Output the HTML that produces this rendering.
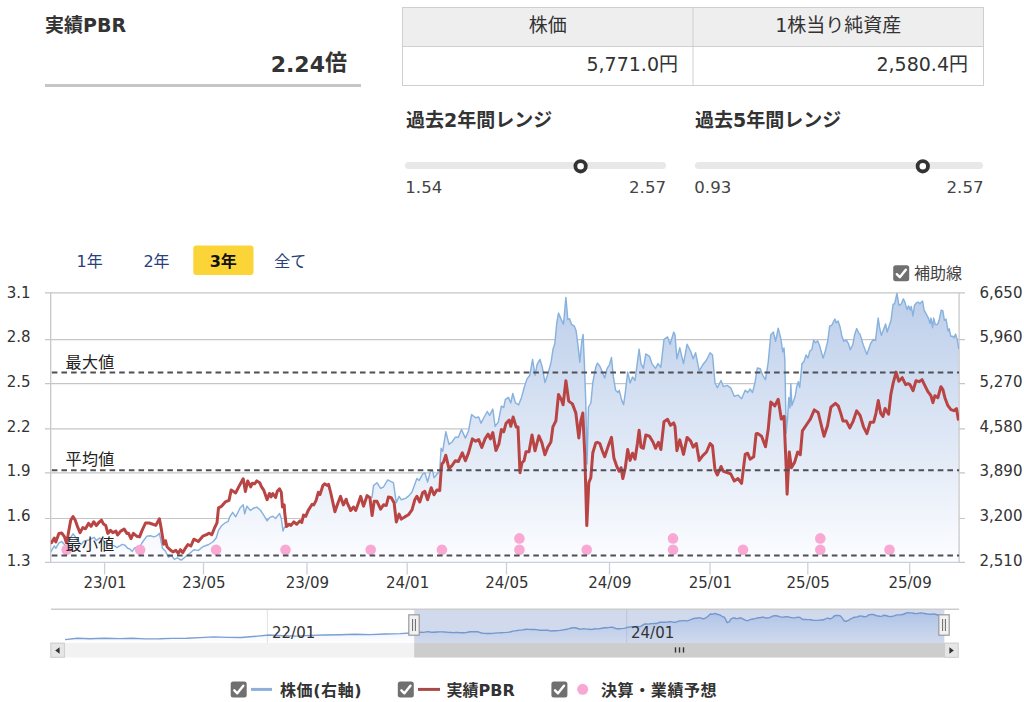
<!DOCTYPE html>
<html lang="ja"><head><meta charset="utf-8"><title>実績PBR</title>
<style>html,body{margin:0;padding:0;background:#fff;}body{width:1024px;height:702px;overflow:hidden;position:relative;}</style>
</head><body>
<svg width="1024" height="702" viewBox="0 0 1024 702" style="position:absolute;left:0;top:0">
<defs><linearGradient id="ag" gradientUnits="userSpaceOnUse" x1="0" y1="292.8" x2="0" y2="562.4"><stop offset="0" stop-color="rgb(188,206,234)"/><stop offset="1" stop-color="rgb(252,253,255)"/></linearGradient><linearGradient id="ng" gradientUnits="userSpaceOnUse" x1="0" y1="609" x2="0" y2="643"><stop offset="0" stop-color="rgb(124,170,236)" stop-opacity="0.4"/><stop offset="1" stop-color="rgb(124,170,236)" stop-opacity="0"/></linearGradient><clipPath id="pc"><rect x="50.7" y="282.8" width="908.4" height="279.59999999999997"/></clipPath></defs>
<text x="45" y="32" font-family='"DejaVu Sans", "Noto Sans CJK JP", sans-serif' font-size="19" font-weight="bold" fill="#333">実績PBR</text>
<text x="347" y="71.7" text-anchor="end" font-family='"DejaVu Sans", "Noto Sans CJK JP", sans-serif' font-size="22" font-weight="bold" fill="#333">2.24<tspan dy="-1.5">倍</tspan></text>
<rect x="45" y="84" width="316" height="3" fill="#c6c6c6"/>
<rect x="402.5" y="7.5" width="581" height="78" fill="#fff" stroke="#cfcfcf" stroke-width="1"/>
<rect x="403" y="8" width="580" height="38" fill="#eeeeee"/>
<line x1="402.5" y1="46.5" x2="983.5" y2="46.5" stroke="#cfcfcf"/>
<line x1="693" y1="7.5" x2="693" y2="85.5" stroke="#cfcfcf"/>
<text x="547.8" y="32" text-anchor="middle" font-family='"DejaVu Sans", "Noto Sans CJK JP", sans-serif' font-size="19" fill="#333">株価</text>
<text x="838.3" y="32" text-anchor="middle" font-family='"DejaVu Sans", "Noto Sans CJK JP", sans-serif' font-size="19" fill="#333">1株当り純資産</text>
<text x="678" y="71.1" text-anchor="end" font-family='"DejaVu Sans", "Noto Sans CJK JP", sans-serif' font-size="19" fill="#333">5,771.0円</text>
<text x="968" y="71.1" text-anchor="end" font-family='"DejaVu Sans", "Noto Sans CJK JP", sans-serif' font-size="19" fill="#333">2,580.4円</text>
<text x="406" y="127" font-family='"DejaVu Sans", "Noto Sans CJK JP", sans-serif' font-size="19" font-weight="bold" fill="#333">過去2年間レンジ</text>
<text x="695" y="127" font-family='"DejaVu Sans", "Noto Sans CJK JP", sans-serif' font-size="19" font-weight="bold" fill="#333">過去5年間レンジ</text>
<rect x="405" y="162" width="261" height="7" rx="3.5" fill="#e8e8e8"/>
<rect x="695" y="162" width="288" height="7" rx="3.5" fill="#e8e8e8"/>
<circle cx="580.6" cy="166.3" r="5.2" fill="#fff" stroke="#333" stroke-width="3.8"/>
<circle cx="922.8" cy="166.3" r="5.2" fill="#fff" stroke="#333" stroke-width="3.8"/>
<text x="405.3" y="192.8" text-anchor="start" font-family='"DejaVu Sans", "Noto Sans CJK JP", sans-serif' font-size="16.6" fill="#444">1.54</text>
<text x="666" y="192.8" text-anchor="end" font-family='"DejaVu Sans", "Noto Sans CJK JP", sans-serif' font-size="16.6" fill="#444">2.57</text>
<text x="694.3" y="192.8" text-anchor="start" font-family='"DejaVu Sans", "Noto Sans CJK JP", sans-serif' font-size="16.6" fill="#444">0.93</text>
<text x="983.5" y="192.8" text-anchor="end" font-family='"DejaVu Sans", "Noto Sans CJK JP", sans-serif' font-size="16.6" fill="#444">2.57</text>
<rect x="193.3" y="245.5" width="60.2" height="29.6" rx="3" fill="#fbd537"/>
<text x="89.6" y="266.8" text-anchor="middle" font-family='"DejaVu Sans", "Noto Sans CJK JP", sans-serif' font-size="16" fill="#283f7c">1年</text>
<text x="156.5" y="266.8" text-anchor="middle" font-family='"DejaVu Sans", "Noto Sans CJK JP", sans-serif' font-size="16" fill="#283f7c">2年</text>
<text x="223.2" y="266.8" text-anchor="middle" font-family='"DejaVu Sans", "Noto Sans CJK JP", sans-serif' font-size="16" font-weight="bold" fill="#111">3年</text>
<text x="290.2" y="266.8" text-anchor="middle" font-family='"DejaVu Sans", "Noto Sans CJK JP", sans-serif' font-size="16" fill="#283f7c">全て</text>
<rect x="893.2" y="265.3" width="16" height="16" rx="2.5" fill="#707070"/>
<path d="M896.8 274.2 L899.8 277.2 L905.8 269.7" fill="none" stroke="#fff" stroke-width="2.4" stroke-linecap="round" stroke-linejoin="round"/>
<text x="914" y="279.3" font-family='"DejaVu Sans", "Noto Sans CJK JP", sans-serif' font-size="16" fill="#444">補助線</text>
<line x1="45" y1="292.8" x2="965" y2="292.8" stroke="#c6c6c6" stroke-width="1.15"/>
<line x1="45" y1="339.6" x2="965" y2="339.6" stroke="#c6c6c6" stroke-width="1.15"/>
<line x1="45" y1="383.6" x2="965" y2="383.6" stroke="#c6c6c6" stroke-width="1.15"/>
<line x1="45" y1="428.9" x2="965" y2="428.9" stroke="#c6c6c6" stroke-width="1.15"/>
<line x1="45" y1="472.9" x2="965" y2="472.9" stroke="#c6c6c6" stroke-width="1.15"/>
<line x1="45" y1="518.5" x2="965" y2="518.5" stroke="#c6c6c6" stroke-width="1.15"/>
<line x1="45" y1="562.4" x2="965" y2="562.4" stroke="#c6c6c6" stroke-width="1.15"/>
<polygon points="50.5,562.4 50.5,551.4 51.1,551.4 54.3,545.9 55.8,548.3 58.9,542.8 61.7,541.6 64.4,544.4 66.8,546.7 70.7,537.3 73.0,533.8 75.3,536.6 78.0,541.0 80.8,544.4 83.9,541.3 89.4,539.7 94.1,537.3 96.4,540.5 99.6,538.1 101.9,538.9 104.3,541.3 108.2,544.4 114.4,545.9 116.8,547.5 119.9,545.9 122.2,544.4 125.0,545.2 127.7,548.3 129.8,549.0 132.2,551.4 134.6,547.8 139.5,547.8 141.9,543.0 146.7,536.3 150.4,535.7 154.0,536.9 157.0,535.7 159.4,533.3 162.5,548.2 165.5,551.2 168.5,557.2 171.4,555.7 174.4,559.4 177.4,557.9 181.2,560.1 184.9,557.2 188.6,554.2 193.9,549.7 198.3,550.4 202.8,546.7 208.8,544.5 213.3,541.5 216.3,537.7 218.5,530.3 221.5,525.8 225.3,522.8 228.2,521.3 229.7,516.8 232.7,512.3 235.7,516.8 240.2,507.8 243.2,504.8 244.7,513.8 246.9,506.3 250.3,510.4 253.4,508.3 256.8,507.1 260.3,510.0 263.7,515.1 267.1,520.8 269.9,517.4 272.8,516.3 275.6,518.5 279.6,513.4 281.3,518.5 283.0,531.1 284.5,527.1 286.4,526.5 289.3,524.2 291.0,525.4 293.8,521.9 296.7,524.2 300.1,520.8 301.8,522.5 303.5,515.1 305.8,516.3 308.1,510.6 312.1,504.3 313.8,504.9 316.1,500.3 318.3,492.3 320.0,494.6 322.9,485.5 324.6,483.8 327.4,485.5 328.6,484.4 330.9,493.5 334.9,511.7 337.7,503.7 340.5,496.3 343.4,504.9 346.2,499.2 347.1,502.7 350.7,510.5 353.5,507.0 355.7,510.5 358.5,502.7 360.7,496.3 363.5,506.2 367.1,495.6 369.9,497.7 372.1,497.0 373.5,485.6 377.0,482.7 380.6,488.4 383.5,487.0 387.7,479.9 390.6,481.3 393.4,482.7 396.3,502.7 399.1,496.3 401.3,499.8 405.5,498.4 409.1,495.6 412.0,492.0 414.8,484.2 416.9,478.5 419.1,480.6 422.6,474.2 424.8,472.8 427.6,482.0 430.5,471.3 432.6,470.6 434.0,477.7 436.9,474.2 439.7,471.3 441.1,448.2 442.7,451.4 445.8,431.8 449.0,444.3 452.1,442.0 455.2,437.3 458.3,437.3 461.5,429.5 465.4,438.1 468.5,431.0 471.6,414.6 475.6,417.7 478.7,417.0 481.0,423.2 484.2,417.0 487.3,411.5 489.6,415.4 492.8,409.1 495.1,426.3 498.2,422.4 501.4,406.0 503.7,407.6 505.3,399.7 508.4,397.4 510.8,402.9 512.8,393.5 515.5,402.9 518.7,404.8 521.5,397.4 524.3,387.2 527.0,378.9 529.8,375.2 532.6,359.4 535.0,375.2 537.2,364.1 540.0,359.4 542.4,367.8 545.0,382.6 548.3,372.4 551.1,362.2 553.0,349.3 554.8,343.7 556.7,323.3 558.5,313.1 561.3,319.6 563.5,324.3 565.9,297.4 567.8,319.6 569.6,318.7 571.5,324.3 574.3,326.1 576.1,330.7 578.0,345.6 579.8,362.2 581.7,341.9 583.1,334.4 584.4,364.1 585.7,400.0 587.0,464.0 588.5,407.0 590.9,403.0 592.8,382.6 595.6,367.8 597.4,363.1 599.8,366.0 602.3,372.1 604.7,378.1 607.1,368.4 609.5,364.8 611.5,357.5 613.2,375.7 615.6,390.2 618.0,392.6 619.2,390.2 621.6,399.9 623.6,404.7 625.3,392.6 627.7,372.1 630.1,383.0 632.5,376.9 635.0,380.5 637.4,362.4 639.1,349.1 641.0,363.6 643.4,368.4 645.8,353.9 649.5,356.3 651.9,363.6 655.5,368.4 658.0,363.6 660.9,367.2 664.0,339.4 667.6,336.9 670.1,344.2 673.7,332.1 675.0,334.5 676.9,358.7 679.8,347.8 683.5,363.6 687.1,344.2 690.7,351.5 693.2,358.7 695.6,352.7 699.2,370.8 702.8,364.8 706.5,360.0 710.1,352.7 712.5,355.1 715.0,383.0 717.4,387.8 721.0,380.5 723.4,386.6 727.1,385.4 730.7,387.8 734.3,396.3 738.0,395.1 741.6,398.7 745.2,390.2 747.6,392.6 750.1,389.0 752.5,392.6 754.9,383.0 757.3,368.0 760.3,368.7 762.9,375.6 765.5,379.6 768.2,362.4 770.8,334.8 773.4,332.1 775.6,341.4 778.2,328.2 780.8,338.7 782.7,351.9 784.0,347.9 784.8,360.0 786.2,433.0 787.7,415.9 788.8,397.6 790.0,407.9 790.8,384.0 791.9,405.6 795.1,396.5 796.8,386.2 798.3,381.7 799.7,387.4 802.0,363.4 802.2,363.8 804.1,361.3 806.0,354.9 807.9,358.1 809.9,351.0 811.8,349.7 813.7,340.1 815.6,342.7 817.6,340.8 819.5,345.3 821.4,352.3 823.1,358.1 825.3,351.0 827.8,340.8 829.7,326.0 831.7,325.4 833.6,321.5 834.9,319.0 836.2,322.8 838.1,320.9 840.0,326.7 841.9,336.3 843.8,341.4 846.4,340.1 848.3,343.3 850.3,349.7 852.8,344.6 854.7,334.4 856.7,328.6 859.2,333.7 860.0,334.1 863.2,344.8 866.9,354.4 870.7,343.2 873.4,339.5 875.5,340.6 878.2,318.1 879.8,328.8 881.4,335.2 885.6,324.0 887.2,332.0 891.0,320.3 893.1,304.2 894.7,303.7 896.9,293.5 899.0,305.3 901.1,304.2 903.3,298.9 904.9,302.1 907.0,309.6 908.6,305.8 910.2,310.1 911.3,306.4 912.9,316.0 914.5,305.3 916.6,302.6 918.2,302.1 919.8,303.7 922.5,301.0 924.1,310.1 928.4,318.1 930.0,323.5 931.0,318.1 932.6,327.7 933.7,318.1 935.3,324.5 937.5,324.5 939.1,320.3 941.2,310.1 942.8,310.6 944.4,320.3 946.0,319.2 948.1,330.9 949.2,328.8 950.8,336.3 953.0,336.3 954.0,337.9 955.6,334.1 957.2,339.5 958.8,349.1 958.8,562.4" fill="url(#ag)" clip-path="url(#pc)"/>
<line x1="50.7" y1="292.8" x2="50.7" y2="562.4" stroke="#c8c8c8" stroke-width="1.3"/>
<line x1="959.1" y1="292.8" x2="959.1" y2="562.4" stroke="#c8c8c8" stroke-width="1.3"/>
<line x1="50.7" y1="562.4" x2="959.1" y2="562.4" stroke="#ccd0da" stroke-width="1.3"/>
<line x1="104.6" y1="562.4" x2="104.6" y2="574.4" stroke="#ccd0da" stroke-width="1.3"/>
<text x="105.0" y="587.9" text-anchor="middle" font-family='"DejaVu Sans", "Noto Sans CJK JP", sans-serif' font-size="15" fill="#333">23/01</text>
<line x1="203.5" y1="562.4" x2="203.5" y2="574.4" stroke="#ccd0da" stroke-width="1.3"/>
<text x="203.9" y="587.9" text-anchor="middle" font-family='"DejaVu Sans", "Noto Sans CJK JP", sans-serif' font-size="15" fill="#333">23/05</text>
<line x1="307.0" y1="562.4" x2="307.0" y2="574.4" stroke="#ccd0da" stroke-width="1.3"/>
<text x="307.4" y="587.9" text-anchor="middle" font-family='"DejaVu Sans", "Noto Sans CJK JP", sans-serif' font-size="15" fill="#333">23/09</text>
<line x1="407.2" y1="562.4" x2="407.2" y2="574.4" stroke="#ccd0da" stroke-width="1.3"/>
<text x="407.59999999999997" y="587.9" text-anchor="middle" font-family='"DejaVu Sans", "Noto Sans CJK JP", sans-serif' font-size="15" fill="#333">24/01</text>
<line x1="506.5" y1="562.4" x2="506.5" y2="574.4" stroke="#ccd0da" stroke-width="1.3"/>
<text x="506.9" y="587.9" text-anchor="middle" font-family='"DejaVu Sans", "Noto Sans CJK JP", sans-serif' font-size="15" fill="#333">24/05</text>
<line x1="609.5" y1="562.4" x2="609.5" y2="574.4" stroke="#ccd0da" stroke-width="1.3"/>
<text x="609.9" y="587.9" text-anchor="middle" font-family='"DejaVu Sans", "Noto Sans CJK JP", sans-serif' font-size="15" fill="#333">24/09</text>
<line x1="710.0" y1="562.4" x2="710.0" y2="574.4" stroke="#ccd0da" stroke-width="1.3"/>
<text x="710.4" y="587.9" text-anchor="middle" font-family='"DejaVu Sans", "Noto Sans CJK JP", sans-serif' font-size="15" fill="#333">25/01</text>
<line x1="807.8" y1="562.4" x2="807.8" y2="574.4" stroke="#ccd0da" stroke-width="1.3"/>
<text x="808.1999999999999" y="587.9" text-anchor="middle" font-family='"DejaVu Sans", "Noto Sans CJK JP", sans-serif' font-size="15" fill="#333">25/05</text>
<line x1="909.7" y1="562.4" x2="909.7" y2="574.4" stroke="#ccd0da" stroke-width="1.3"/>
<text x="910.1" y="587.9" text-anchor="middle" font-family='"DejaVu Sans", "Noto Sans CJK JP", sans-serif' font-size="15" fill="#333">25/09</text>
<text x="30.6" y="297.8" text-anchor="end" font-family='"DejaVu Sans", "Noto Sans CJK JP", sans-serif' font-size="15" fill="#333">3.1</text>
<text x="30.6" y="341.6" text-anchor="end" font-family='"DejaVu Sans", "Noto Sans CJK JP", sans-serif' font-size="15" fill="#333">2.8</text>
<text x="30.6" y="387.4" text-anchor="end" font-family='"DejaVu Sans", "Noto Sans CJK JP", sans-serif' font-size="15" fill="#333">2.5</text>
<text x="30.6" y="431.5" text-anchor="end" font-family='"DejaVu Sans", "Noto Sans CJK JP", sans-serif' font-size="15" fill="#333">2.2</text>
<text x="30.6" y="476.4" text-anchor="end" font-family='"DejaVu Sans", "Noto Sans CJK JP", sans-serif' font-size="15" fill="#333">1.9</text>
<text x="30.6" y="520.7" text-anchor="end" font-family='"DejaVu Sans", "Noto Sans CJK JP", sans-serif' font-size="15" fill="#333">1.6</text>
<text x="30.6" y="566.1" text-anchor="end" font-family='"DejaVu Sans", "Noto Sans CJK JP", sans-serif' font-size="15" fill="#333">1.3</text>
<text x="979.5" y="297.8" font-family='"DejaVu Sans", "Noto Sans CJK JP", sans-serif' font-size="15" fill="#333">6,650</text>
<text x="979.5" y="341.6" font-family='"DejaVu Sans", "Noto Sans CJK JP", sans-serif' font-size="15" fill="#333">5,960</text>
<text x="979.5" y="387.4" font-family='"DejaVu Sans", "Noto Sans CJK JP", sans-serif' font-size="15" fill="#333">5,270</text>
<text x="979.5" y="431.5" font-family='"DejaVu Sans", "Noto Sans CJK JP", sans-serif' font-size="15" fill="#333">4,580</text>
<text x="979.5" y="476.4" font-family='"DejaVu Sans", "Noto Sans CJK JP", sans-serif' font-size="15" fill="#333">3,890</text>
<text x="979.5" y="520.7" font-family='"DejaVu Sans", "Noto Sans CJK JP", sans-serif' font-size="15" fill="#333">3,200</text>
<text x="979.5" y="566.1" font-family='"DejaVu Sans", "Noto Sans CJK JP", sans-serif' font-size="15" fill="#333">2,510</text>
<polyline points="50.5,551.4 51.1,551.4 54.3,545.9 55.8,548.3 58.9,542.8 61.7,541.6 64.4,544.4 66.8,546.7 70.7,537.3 73.0,533.8 75.3,536.6 78.0,541.0 80.8,544.4 83.9,541.3 89.4,539.7 94.1,537.3 96.4,540.5 99.6,538.1 101.9,538.9 104.3,541.3 108.2,544.4 114.4,545.9 116.8,547.5 119.9,545.9 122.2,544.4 125.0,545.2 127.7,548.3 129.8,549.0 132.2,551.4 134.6,547.8 139.5,547.8 141.9,543.0 146.7,536.3 150.4,535.7 154.0,536.9 157.0,535.7 159.4,533.3 162.5,548.2 165.5,551.2 168.5,557.2 171.4,555.7 174.4,559.4 177.4,557.9 181.2,560.1 184.9,557.2 188.6,554.2 193.9,549.7 198.3,550.4 202.8,546.7 208.8,544.5 213.3,541.5 216.3,537.7 218.5,530.3 221.5,525.8 225.3,522.8 228.2,521.3 229.7,516.8 232.7,512.3 235.7,516.8 240.2,507.8 243.2,504.8 244.7,513.8 246.9,506.3 250.3,510.4 253.4,508.3 256.8,507.1 260.3,510.0 263.7,515.1 267.1,520.8 269.9,517.4 272.8,516.3 275.6,518.5 279.6,513.4 281.3,518.5 283.0,531.1 284.5,527.1 286.4,526.5 289.3,524.2 291.0,525.4 293.8,521.9 296.7,524.2 300.1,520.8 301.8,522.5 303.5,515.1 305.8,516.3 308.1,510.6 312.1,504.3 313.8,504.9 316.1,500.3 318.3,492.3 320.0,494.6 322.9,485.5 324.6,483.8 327.4,485.5 328.6,484.4 330.9,493.5 334.9,511.7 337.7,503.7 340.5,496.3 343.4,504.9 346.2,499.2 347.1,502.7 350.7,510.5 353.5,507.0 355.7,510.5 358.5,502.7 360.7,496.3 363.5,506.2 367.1,495.6 369.9,497.7 372.1,497.0 373.5,485.6 377.0,482.7 380.6,488.4 383.5,487.0 387.7,479.9 390.6,481.3 393.4,482.7 396.3,502.7 399.1,496.3 401.3,499.8 405.5,498.4 409.1,495.6 412.0,492.0 414.8,484.2 416.9,478.5 419.1,480.6 422.6,474.2 424.8,472.8 427.6,482.0 430.5,471.3 432.6,470.6 434.0,477.7 436.9,474.2 439.7,471.3 441.1,448.2 442.7,451.4 445.8,431.8 449.0,444.3 452.1,442.0 455.2,437.3 458.3,437.3 461.5,429.5 465.4,438.1 468.5,431.0 471.6,414.6 475.6,417.7 478.7,417.0 481.0,423.2 484.2,417.0 487.3,411.5 489.6,415.4 492.8,409.1 495.1,426.3 498.2,422.4 501.4,406.0 503.7,407.6 505.3,399.7 508.4,397.4 510.8,402.9 512.8,393.5 515.5,402.9 518.7,404.8 521.5,397.4 524.3,387.2 527.0,378.9 529.8,375.2 532.6,359.4 535.0,375.2 537.2,364.1 540.0,359.4 542.4,367.8 545.0,382.6 548.3,372.4 551.1,362.2 553.0,349.3 554.8,343.7 556.7,323.3 558.5,313.1 561.3,319.6 563.5,324.3 565.9,297.4 567.8,319.6 569.6,318.7 571.5,324.3 574.3,326.1 576.1,330.7 578.0,345.6 579.8,362.2 581.7,341.9 583.1,334.4 584.4,364.1 585.7,400.0 587.0,464.0 588.5,407.0 590.9,403.0 592.8,382.6 595.6,367.8 597.4,363.1 599.8,366.0 602.3,372.1 604.7,378.1 607.1,368.4 609.5,364.8 611.5,357.5 613.2,375.7 615.6,390.2 618.0,392.6 619.2,390.2 621.6,399.9 623.6,404.7 625.3,392.6 627.7,372.1 630.1,383.0 632.5,376.9 635.0,380.5 637.4,362.4 639.1,349.1 641.0,363.6 643.4,368.4 645.8,353.9 649.5,356.3 651.9,363.6 655.5,368.4 658.0,363.6 660.9,367.2 664.0,339.4 667.6,336.9 670.1,344.2 673.7,332.1 675.0,334.5 676.9,358.7 679.8,347.8 683.5,363.6 687.1,344.2 690.7,351.5 693.2,358.7 695.6,352.7 699.2,370.8 702.8,364.8 706.5,360.0 710.1,352.7 712.5,355.1 715.0,383.0 717.4,387.8 721.0,380.5 723.4,386.6 727.1,385.4 730.7,387.8 734.3,396.3 738.0,395.1 741.6,398.7 745.2,390.2 747.6,392.6 750.1,389.0 752.5,392.6 754.9,383.0 757.3,368.0 760.3,368.7 762.9,375.6 765.5,379.6 768.2,362.4 770.8,334.8 773.4,332.1 775.6,341.4 778.2,328.2 780.8,338.7 782.7,351.9 784.0,347.9 784.8,360.0 786.2,433.0 787.7,415.9 788.8,397.6 790.0,407.9 790.8,384.0 791.9,405.6 795.1,396.5 796.8,386.2 798.3,381.7 799.7,387.4 802.0,363.4 802.2,363.8 804.1,361.3 806.0,354.9 807.9,358.1 809.9,351.0 811.8,349.7 813.7,340.1 815.6,342.7 817.6,340.8 819.5,345.3 821.4,352.3 823.1,358.1 825.3,351.0 827.8,340.8 829.7,326.0 831.7,325.4 833.6,321.5 834.9,319.0 836.2,322.8 838.1,320.9 840.0,326.7 841.9,336.3 843.8,341.4 846.4,340.1 848.3,343.3 850.3,349.7 852.8,344.6 854.7,334.4 856.7,328.6 859.2,333.7 860.0,334.1 863.2,344.8 866.9,354.4 870.7,343.2 873.4,339.5 875.5,340.6 878.2,318.1 879.8,328.8 881.4,335.2 885.6,324.0 887.2,332.0 891.0,320.3 893.1,304.2 894.7,303.7 896.9,293.5 899.0,305.3 901.1,304.2 903.3,298.9 904.9,302.1 907.0,309.6 908.6,305.8 910.2,310.1 911.3,306.4 912.9,316.0 914.5,305.3 916.6,302.6 918.2,302.1 919.8,303.7 922.5,301.0 924.1,310.1 928.4,318.1 930.0,323.5 931.0,318.1 932.6,327.7 933.7,318.1 935.3,324.5 937.5,324.5 939.1,320.3 941.2,310.1 942.8,310.6 944.4,320.3 946.0,319.2 948.1,330.9 949.2,328.8 950.8,336.3 953.0,336.3 954.0,337.9 955.6,334.1 957.2,339.5 958.8,349.1" fill="none" stroke="#88b2de" stroke-width="1.45" stroke-linejoin="round" clip-path="url(#pc)"/>
<polyline points="50.5,542.8 51.5,542.8 54.3,538.1 55.8,542.0 58.9,533.4 61.7,533.0 64.4,536.6 66.4,542.8 67.9,535.8 70.7,520.2 73.0,516.6 75.3,520.2 77.7,527.2 80.0,532.7 82.8,527.6 85.5,528.8 88.6,523.3 91.0,526.4 93.7,521.7 96.4,525.6 98.8,522.5 101.5,520.2 103.5,524.1 105.8,525.6 107.8,533.4 110.5,530.3 112.8,532.7 116.0,531.1 117.5,535.0 120.7,531.1 124.2,529.1 126.9,533.4 128.6,533.3 131.0,538.7 133.4,533.3 137.0,536.3 139.5,536.9 141.9,530.9 145.5,523.0 149.1,523.0 152.8,524.2 155.8,525.4 159.4,518.8 161.2,528.4 163.7,544.2 165.5,540.7 167.0,546.7 170.0,549.7 172.9,551.9 175.9,550.4 178.2,553.4 180.4,549.7 182.7,552.7 184.9,548.9 187.9,544.5 190.9,546.0 193.9,539.2 198.3,541.5 202.8,536.2 206.6,534.7 208.8,533.2 211.8,534.7 214.8,527.3 217.0,522.8 218.5,507.8 221.5,506.3 225.3,501.9 229.0,500.4 231.2,489.9 235.7,492.9 238.7,486.9 243.2,478.7 245.4,491.4 247.7,480.9 250.7,486.9 252.3,483.2 254.6,483.8 256.8,480.9 259.7,482.7 261.4,486.6 263.7,490.1 267.1,499.7 269.4,493.5 271.1,496.9 272.8,493.5 275.6,497.5 277.3,491.2 279.6,488.9 281.3,492.3 282.5,507.1 284.2,504.9 284.7,512.8 286.4,526.5 289.3,524.2 291.0,525.4 293.8,521.9 296.7,524.2 300.1,520.8 301.8,522.5 303.5,515.1 305.8,516.3 308.1,510.6 312.1,504.3 313.8,504.9 316.1,500.3 318.3,492.3 320.0,494.6 322.9,485.5 324.6,483.8 327.4,485.5 328.6,484.4 330.9,493.5 334.9,511.7 337.7,503.7 340.5,496.3 343.4,504.9 346.2,499.2 347.1,502.7 350.7,510.5 353.5,507.0 355.7,510.5 358.5,502.7 360.7,496.3 363.5,506.2 367.1,495.6 369.9,497.7 372.1,515.5 374.2,501.3 377.0,501.3 380.6,509.1 383.5,504.8 386.3,505.5 388.4,497.0 391.3,497.7 394.1,502.7 396.3,521.9 399.1,514.1 401.3,519.1 404.8,516.9 408.4,514.8 412.0,509.8 414.8,499.8 416.9,496.3 419.8,502.0 422.6,492.7 424.8,491.3 427.6,499.8 431.2,487.7 434.0,494.8 436.9,489.9 439.7,490.6 441.2,470.0 441.9,463.9 443.5,462.3 445.8,455.3 449.0,468.6 452.1,465.5 455.2,460.8 458.3,461.5 462.3,452.9 465.4,460.8 468.5,452.9 472.4,438.9 475.6,441.2 478.7,439.6 481.8,447.5 485.0,438.9 488.1,434.2 490.4,438.9 492.8,432.6 495.9,450.6 499.0,443.6 501.4,429.5 503.7,431.8 506.1,423.2 509.2,420.1 510.8,426.3 513.1,417.0 516.2,427.1 518.0,426.9 520.0,472.8 522.0,462.8 524.0,460.8 526.0,451.8 529.0,451.8 532.0,434.9 535.0,450.8 538.9,435.9 541.9,442.9 544.9,454.8 547.9,446.9 550.9,441.9 552.9,426.9 555.9,420.9 558.5,394.6 561.5,400.0 563.1,404.8 565.9,380.7 568.7,401.1 572.4,403.9 575.8,412.9 578.8,437.9 580.8,420.9 582.8,413.0 584.8,454.8 586.8,525.6 588.8,482.8 590.8,477.8 592.8,452.8 595.8,442.9 597.4,442.3 599.8,443.5 602.3,450.7 604.7,456.8 608.3,445.9 611.5,437.4 613.9,458.0 616.8,466.5 619.2,471.3 621.1,467.7 622.8,478.6 625.3,467.7 627.7,449.5 630.1,460.4 632.5,453.2 635.0,459.2 637.4,443.5 639.1,430.2 641.0,447.1 643.4,448.3 645.8,435.0 649.5,436.2 653.1,442.3 655.5,448.3 658.4,442.3 660.9,449.5 664.0,421.7 667.6,419.3 670.5,425.3 673.7,422.9 675.0,426.5 676.9,450.7 679.8,439.9 683.5,454.4 687.1,437.4 690.7,441.1 693.2,447.1 696.3,443.5 699.2,460.4 702.8,455.6 706.5,452.0 710.1,443.5 712.5,445.9 715.0,470.1 717.4,475.0 721.0,466.5 723.4,471.3 727.1,472.5 730.7,473.8 734.3,481.0 738.0,478.6 741.6,483.4 745.2,454.4 747.6,453.2 750.1,459.2 753.7,456.8 756.1,433.8 757.6,433.6 761.6,436.2 765.5,446.8 768.2,429.6 770.8,402.0 774.8,405.9 778.2,399.3 781.3,419.1 784.0,416.4 786.1,465.2 787.1,494.2 789.3,452.0 791.4,467.8 794.5,462.6 797.7,452.0 800.3,454.7 802.4,430.9 807.7,423.0 810.3,419.1 814.3,409.9 818.2,412.5 821.4,425.7 824.0,436.2 827.5,425.7 830.9,407.2 835.4,403.3 838.4,406.2 840.7,413.1 843.0,421.1 846.4,421.1 849.8,427.9 853.2,421.1 856.7,410.8 860.1,415.4 863.5,426.8 866.9,433.6 870.3,422.2 873.7,422.2 876.0,413.1 878.3,400.5 880.6,413.1 882.9,416.5 885.1,408.5 888.6,414.2 890.8,394.8 893.1,383.4 896.1,372.1 898.8,381.2 902.2,377.7 905.7,384.6 908.0,383.7 910.0,384.7 913.0,390.7 916.0,380.7 919.0,381.7 922.0,379.7 924.9,385.7 927.9,391.7 930.9,395.7 932.9,402.7 934.9,395.7 937.9,397.7 940.9,386.7 942.9,389.7 944.9,397.7 947.9,405.7 950.9,409.7 953.9,410.7 956.5,408.7 958.5,420.6" fill="none" stroke="#b94444" stroke-width="3" stroke-linejoin="round" clip-path="url(#pc)"/>
<circle cx="66.7" cy="549.7" r="5.3" fill="#f9a8d4"/>
<circle cx="140.1" cy="549.7" r="5.3" fill="#f9a8d4"/>
<circle cx="216.1" cy="549.7" r="5.3" fill="#f9a8d4"/>
<circle cx="285.5" cy="549.7" r="5.3" fill="#f9a8d4"/>
<circle cx="370.7" cy="549.7" r="5.3" fill="#f9a8d4"/>
<circle cx="441.9" cy="549.7" r="5.3" fill="#f9a8d4"/>
<circle cx="519.4" cy="549.7" r="5.3" fill="#f9a8d4"/>
<circle cx="519.4" cy="538.4" r="5.3" fill="#f9a8d4"/>
<circle cx="586.7" cy="549.7" r="5.3" fill="#f9a8d4"/>
<circle cx="673" cy="549.7" r="5.3" fill="#f9a8d4"/>
<circle cx="673" cy="538.4" r="5.3" fill="#f9a8d4"/>
<circle cx="743" cy="549.7" r="5.3" fill="#f9a8d4"/>
<circle cx="820.3" cy="549.7" r="5.3" fill="#f9a8d4"/>
<circle cx="820.3" cy="538.4" r="5.3" fill="#f9a8d4"/>
<circle cx="889.5" cy="549.7" r="5.3" fill="#f9a8d4"/>
<line x1="50.7" y1="372.6" x2="959.1" y2="372.6" stroke="#4f4f56" stroke-width="2" stroke-dasharray="5.6 4.03" stroke-dashoffset="-1.1"/>
<line x1="50.7" y1="470.2" x2="959.1" y2="470.2" stroke="#4f4f56" stroke-width="2" stroke-dasharray="5.6 4.03" stroke-dashoffset="-1.1"/>
<line x1="50.7" y1="555.4" x2="959.1" y2="555.4" stroke="#4f4f56" stroke-width="2" stroke-dasharray="5.6 4.03" stroke-dashoffset="-1.1"/>
<text x="65.5" y="367.6" font-family='"DejaVu Sans", "Noto Sans CJK JP", sans-serif' font-size="16" letter-spacing="0.4" fill="#222">最大値</text>
<text x="65.5" y="464.7" font-family='"DejaVu Sans", "Noto Sans CJK JP", sans-serif' font-size="16" letter-spacing="0.4" fill="#222">平均値</text>
<text x="65.5" y="550.2" font-family='"DejaVu Sans", "Noto Sans CJK JP", sans-serif' font-size="16" letter-spacing="0.4" fill="#222">最小値</text>
<rect x="51" y="609" width="908" height="34" fill="#fff"/>
<line x1="267.4" y1="609" x2="267.4" y2="643" stroke="#e2e2e2" stroke-width="1"/>
<line x1="626.7" y1="609" x2="626.7" y2="643" stroke="#e2e2e2" stroke-width="1"/>
<polygon points="65.0,643.0 65.0,639.6 77.3,638.3 90.0,638.8 104.7,638.3 120.0,638.6 132.0,638.3 145.0,638.9 159.4,638.8 172.0,638.4 186.7,638.3 200.0,637.6 214.0,636.9 228.0,637.4 241.4,637.5 257.8,636.1 268.8,635.0 282.0,635.6 296.0,636.1 310.0,635.4 323.5,635.0 340.0,634.8 355.0,634.3 370.0,634.6 385.0,634.0 400.0,633.6 414.3,632.8 416.5,632.5 419.2,632.3 420.8,632.2 422.4,632.4 423.8,632.3 426.1,631.9 427.4,631.6 428.8,631.8 430.3,632.1 432.0,632.2 433.8,632.2 437.0,632.0 439.7,631.9 441.1,631.9 442.9,631.9 444.3,632.0 445.7,632.1 447.9,632.3 451.5,632.5 452.9,632.6 454.8,632.5 456.1,632.4 457.7,632.5 459.3,632.6 460.5,632.8 461.9,632.8 463.3,632.7 466.2,632.6 467.6,632.2 470.4,631.8 472.5,631.7 474.6,631.7 476.4,631.7 477.8,631.8 479.6,632.4 481.3,633.0 483.1,633.3 484.8,633.4 486.5,633.5 488.3,633.5 490.5,633.5 492.7,633.4 494.8,633.1 497.9,632.9 500.5,632.8 503.1,632.6 506.6,632.4 509.2,632.1 511.0,631.8 512.2,631.3 514.0,630.9 516.2,630.7 517.9,630.4 520.5,630.1 522.3,629.9 524.9,629.5 526.6,629.3 528.8,629.4 530.8,629.5 532.6,629.5 534.6,629.4 536.6,629.6 538.6,630.0 540.6,630.3 542.2,630.2 543.9,630.2 545.5,630.1 547.9,630.3 549.9,630.9 551.8,631.0 553.5,630.7 556.1,630.7 557.8,630.6 559.8,630.4 561.8,630.1 563.1,630.0 564.5,629.6 566.8,629.2 569.2,628.7 570.4,628.2 573.1,627.8 575.7,627.8 577.8,628.5 580.1,629.2 581.7,629.1 583.4,628.8 585.1,628.9 586.7,629.1 589.3,629.3 591.0,629.5 592.2,629.4 593.9,629.0 595.2,628.8 596.8,628.9 598.9,628.7 600.5,628.5 601.8,628.3 604.7,627.8 606.8,627.7 608.4,627.6 610.9,627.3 612.6,627.3 614.2,627.8 615.9,628.5 617.5,628.7 618.8,628.7 621.3,628.6 623.4,628.4 625.1,628.1 626.7,627.6 627.9,627.2 629.2,627.1 631.2,626.8 632.5,626.8 634.2,626.9 635.9,626.7 637.1,626.5 639.6,626.6 641.2,626.1 643.0,624.9 644.8,623.9 646.6,624.0 648.4,624.1 650.3,623.8 652.1,623.6 653.9,623.4 656.2,623.5 658.0,623.0 659.8,622.3 662.1,622.1 664.0,622.2 665.3,622.3 667.2,622.1 669.0,621.8 670.3,621.7 672.2,621.9 673.5,622.4 675.3,622.3 677.2,621.6 678.5,621.1 681.3,620.8 682.7,620.6 683.8,620.6 685.4,620.8 687.3,620.9 688.9,620.4 690.5,619.7 692.1,619.1 693.8,618.5 695.4,618.1 696.8,618.2 698.1,617.9 699.7,617.7 701.1,618.2 702.6,618.8 704.5,618.5 706.2,617.6 707.3,616.8 708.3,615.9 709.4,614.7 710.5,614.0 712.1,614.2 713.4,614.0 714.8,613.4 715.9,613.7 717.0,614.3 718.1,614.5 719.7,614.8 720.7,615.3 721.9,616.3 722.9,616.9 724.0,616.9 725.6,619.4 727.1,622.6 729.4,621.8 730.5,619.4 732.1,618.3 733.2,617.9 734.6,618.0 736.0,618.5 737.4,618.6 738.8,618.3 740.2,617.8 741.4,618.1 743.8,619.3 745.2,620.2 747.3,620.7 748.4,620.3 750.8,619.3 752.2,619.0 753.6,619.0 755.1,618.7 756.5,618.1 758.6,617.8 760.0,617.8 761.4,617.3 763.5,617.3 764.9,617.7 767.0,618.0 768.5,617.9 770.2,617.4 772.0,616.3 774.1,615.8 775.6,615.8 777.7,616.0 779.5,616.6 781.2,617.0 783.4,617.1 785.5,616.7 787.6,616.8 789.0,617.1 790.4,617.4 792.5,617.9 794.6,617.9 796.8,617.4 798.9,617.1 800.3,617.6 801.7,618.9 803.1,619.5 805.2,619.4 806.6,619.5 808.8,619.6 810.9,619.8 813.0,620.2 815.1,620.4 817.2,620.4 819.3,620.1 820.7,620.0 822.2,620.0 823.6,619.8 825.0,619.2 826.4,618.4 828.1,618.3 829.7,618.7 831.2,618.6 832.8,617.5 834.3,615.9 835.8,615.5 837.1,615.5 838.6,615.4 840.1,615.8 841.2,616.7 842.4,618.4 844.1,620.7 845.5,621.5 846.6,621.0 848.4,620.3 850.3,619.2 852.5,618.1 853.7,617.5 854.8,617.3 855.9,617.1 857.1,616.9 858.2,616.5 859.3,616.1 860.4,616.0 861.6,616.1 862.7,616.3 863.8,616.7 866.0,616.6 867.5,615.8 868.6,615.0 869.8,614.6 870.9,614.5 872.4,614.4 873.5,614.5 874.6,614.9 875.7,615.5 876.8,615.8 878.3,616.0 879.5,616.2 880.6,616.4 882.1,616.1 883.2,615.5 884.4,615.2 885.8,615.5 888.1,616.2 890.3,616.6 892.5,616.3 894.1,615.9 895.3,615.4 896.9,614.9 898.8,614.9 901.2,614.7 904.4,614.0 905.6,613.1 907.8,612.6 909.0,612.8 910.2,612.9 911.5,612.9 913.7,613.2 915.5,613.6 917.1,613.5 919.3,613.1 921.1,612.9 922.7,613.1 926.2,613.7 927.7,614.1 929.2,614.2 931.5,614.2 933.6,613.9 935.5,614.3 937.6,615.0 939.2,615.5 940.5,615.5 942.0,615.7 943.9,616.3 943.9,643.0" fill="url(#ng)"/>
<polyline points="65.0,639.6 77.3,638.3 90.0,638.8 104.7,638.3 120.0,638.6 132.0,638.3 145.0,638.9 159.4,638.8 172.0,638.4 186.7,638.3 200.0,637.6 214.0,636.9 228.0,637.4 241.4,637.5 257.8,636.1 268.8,635.0 282.0,635.6 296.0,636.1 310.0,635.4 323.5,635.0 340.0,634.8 355.0,634.3 370.0,634.6 385.0,634.0 400.0,633.6 414.3,632.8 416.5,632.5 419.2,632.3 420.8,632.2 422.4,632.4 423.8,632.3 426.1,631.9 427.4,631.6 428.8,631.8 430.3,632.1 432.0,632.2 433.8,632.2 437.0,632.0 439.7,631.9 441.1,631.9 442.9,631.9 444.3,632.0 445.7,632.1 447.9,632.3 451.5,632.5 452.9,632.6 454.8,632.5 456.1,632.4 457.7,632.5 459.3,632.6 460.5,632.8 461.9,632.8 463.3,632.7 466.2,632.6 467.6,632.2 470.4,631.8 472.5,631.7 474.6,631.7 476.4,631.7 477.8,631.8 479.6,632.4 481.3,633.0 483.1,633.3 484.8,633.4 486.5,633.5 488.3,633.5 490.5,633.5 492.7,633.4 494.8,633.1 497.9,632.9 500.5,632.8 503.1,632.6 506.6,632.4 509.2,632.1 511.0,631.8 512.2,631.3 514.0,630.9 516.2,630.7 517.9,630.4 520.5,630.1 522.3,629.9 524.9,629.5 526.6,629.3 528.8,629.4 530.8,629.5 532.6,629.5 534.6,629.4 536.6,629.6 538.6,630.0 540.6,630.3 542.2,630.2 543.9,630.2 545.5,630.1 547.9,630.3 549.9,630.9 551.8,631.0 553.5,630.7 556.1,630.7 557.8,630.6 559.8,630.4 561.8,630.1 563.1,630.0 564.5,629.6 566.8,629.2 569.2,628.7 570.4,628.2 573.1,627.8 575.7,627.8 577.8,628.5 580.1,629.2 581.7,629.1 583.4,628.8 585.1,628.9 586.7,629.1 589.3,629.3 591.0,629.5 592.2,629.4 593.9,629.0 595.2,628.8 596.8,628.9 598.9,628.7 600.5,628.5 601.8,628.3 604.7,627.8 606.8,627.7 608.4,627.6 610.9,627.3 612.6,627.3 614.2,627.8 615.9,628.5 617.5,628.7 618.8,628.7 621.3,628.6 623.4,628.4 625.1,628.1 626.7,627.6 627.9,627.2 629.2,627.1 631.2,626.8 632.5,626.8 634.2,626.9 635.9,626.7 637.1,626.5 639.6,626.6 641.2,626.1 643.0,624.9 644.8,623.9 646.6,624.0 648.4,624.1 650.3,623.8 652.1,623.6 653.9,623.4 656.2,623.5 658.0,623.0 659.8,622.3 662.1,622.1 664.0,622.2 665.3,622.3 667.2,622.1 669.0,621.8 670.3,621.7 672.2,621.9 673.5,622.4 675.3,622.3 677.2,621.6 678.5,621.1 681.3,620.8 682.7,620.6 683.8,620.6 685.4,620.8 687.3,620.9 688.9,620.4 690.5,619.7 692.1,619.1 693.8,618.5 695.4,618.1 696.8,618.2 698.1,617.9 699.7,617.7 701.1,618.2 702.6,618.8 704.5,618.5 706.2,617.6 707.3,616.8 708.3,615.9 709.4,614.7 710.5,614.0 712.1,614.2 713.4,614.0 714.8,613.4 715.9,613.7 717.0,614.3 718.1,614.5 719.7,614.8 720.7,615.3 721.9,616.3 722.9,616.9 724.0,616.9 725.6,619.4 727.1,622.6 729.4,621.8 730.5,619.4 732.1,618.3 733.2,617.9 734.6,618.0 736.0,618.5 737.4,618.6 738.8,618.3 740.2,617.8 741.4,618.1 743.8,619.3 745.2,620.2 747.3,620.7 748.4,620.3 750.8,619.3 752.2,619.0 753.6,619.0 755.1,618.7 756.5,618.1 758.6,617.8 760.0,617.8 761.4,617.3 763.5,617.3 764.9,617.7 767.0,618.0 768.5,617.9 770.2,617.4 772.0,616.3 774.1,615.8 775.6,615.8 777.7,616.0 779.5,616.6 781.2,617.0 783.4,617.1 785.5,616.7 787.6,616.8 789.0,617.1 790.4,617.4 792.5,617.9 794.6,617.9 796.8,617.4 798.9,617.1 800.3,617.6 801.7,618.9 803.1,619.5 805.2,619.4 806.6,619.5 808.8,619.6 810.9,619.8 813.0,620.2 815.1,620.4 817.2,620.4 819.3,620.1 820.7,620.0 822.2,620.0 823.6,619.8 825.0,619.2 826.4,618.4 828.1,618.3 829.7,618.7 831.2,618.6 832.8,617.5 834.3,615.9 835.8,615.5 837.1,615.5 838.6,615.4 840.1,615.8 841.2,616.7 842.4,618.4 844.1,620.7 845.5,621.5 846.6,621.0 848.4,620.3 850.3,619.2 852.5,618.1 853.7,617.5 854.8,617.3 855.9,617.1 857.1,616.9 858.2,616.5 859.3,616.1 860.4,616.0 861.6,616.1 862.7,616.3 863.8,616.7 866.0,616.6 867.5,615.8 868.6,615.0 869.8,614.6 870.9,614.5 872.4,614.4 873.5,614.5 874.6,614.9 875.7,615.5 876.8,615.8 878.3,616.0 879.5,616.2 880.6,616.4 882.1,616.1 883.2,615.5 884.4,615.2 885.8,615.5 888.1,616.2 890.3,616.6 892.5,616.3 894.1,615.9 895.3,615.4 896.9,614.9 898.8,614.9 901.2,614.7 904.4,614.0 905.6,613.1 907.8,612.6 909.0,612.8 910.2,612.9 911.5,612.9 913.7,613.2 915.5,613.6 917.1,613.5 919.3,613.1 921.1,612.9 922.7,613.1 926.2,613.7 927.7,614.1 929.2,614.2 931.5,614.2 933.6,613.9 935.5,614.3 937.6,615.0 939.2,615.5 940.5,615.5 942.0,615.7 943.9,616.3" fill="none" stroke="#7a9fd0" stroke-width="1.4"/>
<rect x="414.2" y="609" width="530.2" height="34" fill="rgb(102,133,194)" fill-opacity="0.3"/>
<line x1="51" y1="609.3" x2="959" y2="609.3" stroke="#cccccc" stroke-width="1.5"/>
<text x="272" y="637.8" font-family='"DejaVu Sans", "Noto Sans CJK JP", sans-serif' font-size="15" fill="#333">22/01</text>
<text x="631" y="637.8" font-family='"DejaVu Sans", "Noto Sans CJK JP", sans-serif' font-size="15" fill="#333">24/01</text>
<rect x="408.8" y="614.8" width="10.4" height="20.4" fill="#f2f2f2" stroke="#999" stroke-width="1.2"/>
<line x1="412.6" y1="619" x2="412.6" y2="631" stroke="#666" stroke-width="1"/>
<line x1="415.40000000000003" y1="619" x2="415.40000000000003" y2="631" stroke="#666" stroke-width="1"/>
<rect x="938.8" y="614.8" width="10.4" height="20.4" fill="#f2f2f2" stroke="#999" stroke-width="1.2"/>
<line x1="942.5999999999999" y1="619" x2="942.5999999999999" y2="631" stroke="#666" stroke-width="1"/>
<line x1="945.4" y1="619" x2="945.4" y2="631" stroke="#666" stroke-width="1"/>
<rect x="50.5" y="642.9" width="908" height="14.6" fill="#f2f2f2"/>
<rect x="414.2" y="642.9" width="530.2" height="14.6" fill="#cdcdcd"/>
<rect x="50.8" y="643.1" width="13.6" height="14.2" fill="#e6e6e6" stroke="#cccccc" stroke-width="1"/>
<rect x="944.6" y="643.1" width="13.6" height="14.2" fill="#e6e6e6" stroke="#cccccc" stroke-width="1"/>
<path d="M55.2 650.5 L59.6 647.2 L59.6 653.8 Z" fill="#333"/>
<path d="M953.8 650.5 L949.4 647.2 L949.4 653.8 Z" fill="#333"/>
<line x1="675.5" y1="647.3" x2="675.5" y2="652.6" stroke="#333" stroke-width="1.4"/>
<line x1="679.5" y1="647.3" x2="679.5" y2="652.6" stroke="#333" stroke-width="1.4"/>
<line x1="683.5" y1="647.3" x2="683.5" y2="652.6" stroke="#333" stroke-width="1.4"/>
<rect x="230.7" y="681.4" width="16" height="16" rx="2.5" fill="#707070"/>
<path d="M234.3 690.3 L237.3 693.3 L243.3 685.8" fill="none" stroke="#fff" stroke-width="2.4" stroke-linecap="round" stroke-linejoin="round"/>
<line x1="251" y1="689.4" x2="272" y2="689.4" stroke="#8cb0d9" stroke-width="3"/>
<text x="280" y="695.5" font-family='"DejaVu Sans", "Noto Sans CJK JP", sans-serif' font-size="16" font-weight="bold" letter-spacing="0.6" fill="#333">株価(右軸)</text>
<rect x="397.8" y="681.4" width="16" height="16" rx="2.5" fill="#707070"/>
<path d="M401.4 690.3 L404.4 693.3 L410.4 685.8" fill="none" stroke="#fff" stroke-width="2.4" stroke-linecap="round" stroke-linejoin="round"/>
<line x1="418" y1="689.4" x2="440" y2="689.4" stroke="#aa4949" stroke-width="3"/>
<text x="446.5" y="695.5" font-family='"DejaVu Sans", "Noto Sans CJK JP", sans-serif' font-size="16" font-weight="bold" fill="#333">実績PBR</text>
<rect x="551.4" y="681.4" width="16" height="16" rx="2.5" fill="#707070"/>
<path d="M555.0 690.3 L558.0 693.3 L564.0 685.8" fill="none" stroke="#fff" stroke-width="2.4" stroke-linecap="round" stroke-linejoin="round"/>
<circle cx="582.7" cy="689.3" r="5.5" fill="#f9a8d4"/>
<text x="601" y="695.5" font-family='"DejaVu Sans", "Noto Sans CJK JP", sans-serif' font-size="16" font-weight="bold" letter-spacing="0.6" fill="#333">決算・業績予想</text>
</svg>
</body></html>
